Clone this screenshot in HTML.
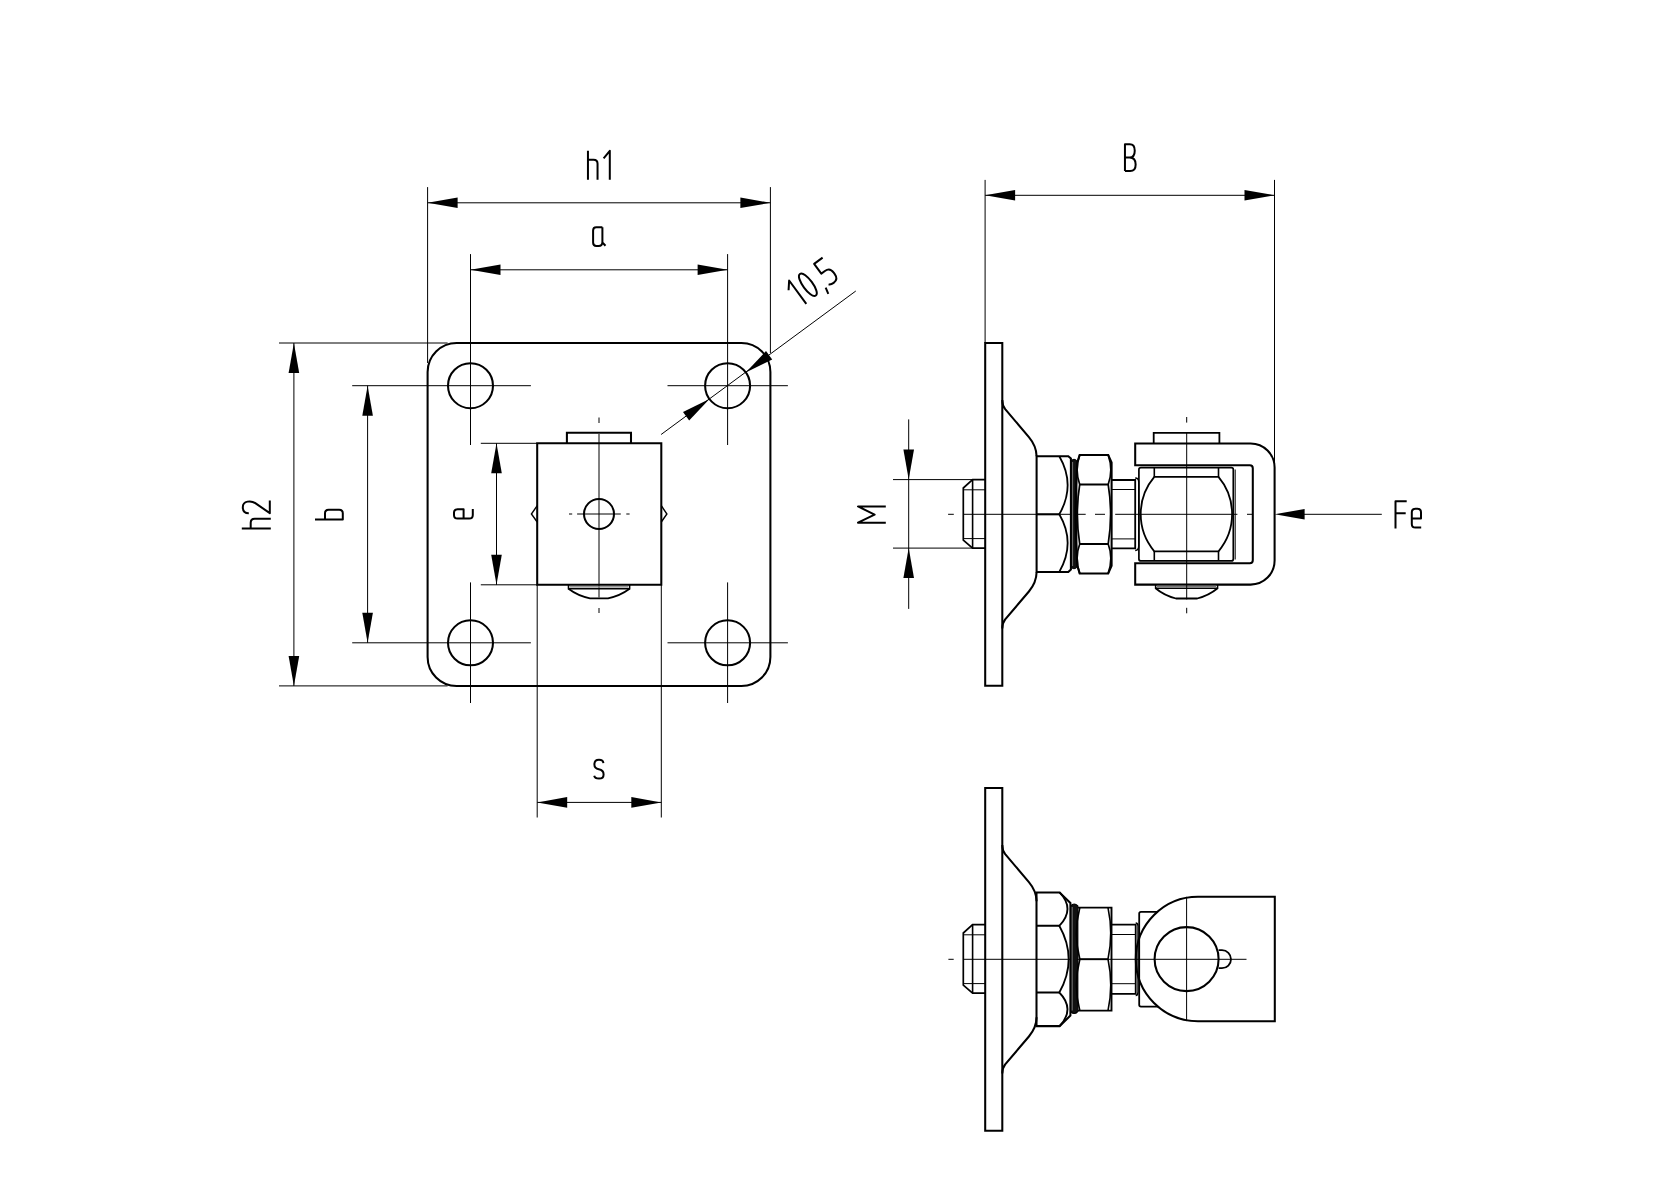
<!DOCTYPE html>
<html><head><meta charset="utf-8"><style>
html,body{margin:0;padding:0;background:#fff;}
body{width:1680px;height:1188px;overflow:hidden;font-family:"Liberation Sans",sans-serif;}
svg{display:block;}
</style></head><body>
<svg width="1680" height="1188" viewBox="0 0 1680 1188">
<rect width="1680" height="1188" fill="#fff"/>
<g stroke="#000" fill="none" stroke-linecap="butt" stroke-linejoin="miter">
<path d="M456.6,343 H741.4 A29,29 0 0 1 770.4,372 V656.9 A29,29 0 0 1 741.4,685.9 H456.6 A29,29 0 0 1 427.6,656.9 V372 A29,29 0 0 1 456.6,343 Z" stroke-width="2.05" fill="none"/>
<circle cx="470.5" cy="385.7" r="22.5" stroke-width="2.05" fill="none"/>
<circle cx="470.5" cy="642.8" r="22.5" stroke-width="2.05" fill="none"/>
<circle cx="727.6" cy="385.7" r="22.5" stroke-width="2.05" fill="none"/>
<circle cx="727.6" cy="642.8" r="22.5" stroke-width="2.05" fill="none"/>
<line x1="352.2" y1="385.7" x2="530.9" y2="385.7" stroke-width="1"/>
<line x1="352.2" y1="642.8" x2="530.9" y2="642.8" stroke-width="1"/>
<line x1="667.5" y1="385.7" x2="787.9" y2="385.7" stroke-width="1"/>
<line x1="667.5" y1="642.8" x2="787.9" y2="642.8" stroke-width="1"/>
<line x1="470.5" y1="254.1" x2="470.5" y2="445" stroke-width="1"/>
<line x1="727.6" y1="254.1" x2="727.6" y2="445" stroke-width="1"/>
<line x1="470.5" y1="582.4" x2="470.5" y2="703" stroke-width="1"/>
<line x1="727.6" y1="582.4" x2="727.6" y2="703" stroke-width="1"/>
<line x1="427.6" y1="187.1" x2="427.6" y2="363" stroke-width="1"/>
<line x1="770.4" y1="187.1" x2="770.4" y2="353" stroke-width="1"/>
<line x1="427.6" y1="202.8" x2="770.4" y2="202.8" stroke-width="1"/>
<path d="M427.6,202.8 L457.6,197.5 L457.6,208.1 Z" fill="#000" stroke="none"/>
<path d="M770.4,202.8 L740.4,208.1 L740.4,197.5 Z" fill="#000" stroke="none"/>
<g transform="translate(586.95,179.8)" stroke-width="2" stroke-linecap="butt" stroke-linejoin="round" fill="none">
<path transform="translate(0,0)" d="M1,-29 V0 M1,-20.1 H6.6 Q10.6,-20.1 10.6,-16.1 V0"/>
<path transform="translate(15.65,0)" d="M1,-21.5 L7.2,-29 V0"/>
</g>
<line x1="470.5" y1="269.8" x2="727.6" y2="269.8" stroke-width="1"/>
<path d="M470.5,269.8 L500.5,264.5 L500.5,275.1 Z" fill="#000" stroke="none"/>
<path d="M727.6,269.8 L697.6,275.1 L697.6,264.5 Z" fill="#000" stroke="none"/>
<g transform="translate(592.1,247)" stroke-width="2" stroke-linecap="butt" stroke-linejoin="round" fill="none">
<path transform="translate(0,0)" d="M10.3,-19.8 H4.2 Q1,-19.8 1,-16.4 V-4.4 Q1,-1 4.2,-1 H6.5 Q10.3,-1 10.3,-5 M10.3,-19.8 V-4.5 L13.4,-1.2"/>
</g>
<line x1="279" y1="343" x2="447.6" y2="343" stroke-width="1"/>
<line x1="279" y1="685.9" x2="447.6" y2="685.9" stroke-width="1"/>
<line x1="293.9" y1="343" x2="293.9" y2="685.9" stroke-width="1"/>
<path d="M293.9,343 L299.2,373 L288.6,373 Z" fill="#000" stroke="none"/>
<path d="M293.9,685.9 L288.6,655.9 L299.2,655.9 Z" fill="#000" stroke="none"/>
<g transform="translate(270.8,529.45) rotate(-90)" stroke-width="2" stroke-linecap="butt" stroke-linejoin="round" fill="none">
<path transform="translate(0,0)" d="M1,-29 V0 M1,-20.1 H6.6 Q10.6,-20.1 10.6,-16.1 V0"/>
<path transform="translate(15.1,0)" d="M13.9,-1 H1.2 L11.2,-15.5 C14,-19.5 13.8,-28 7.2,-28 C3,-28 1,-25.5 1,-22"/>
</g>
<line x1="367.6" y1="385.7" x2="367.6" y2="642.8" stroke-width="1"/>
<path d="M367.6,385.7 L372.9,415.7 L362.3,415.7 Z" fill="#000" stroke="none"/>
<path d="M367.6,642.8 L362.3,612.8 L372.9,612.8 Z" fill="#000" stroke="none"/>
<g transform="translate(343.8,520.55) rotate(-90)" stroke-width="2" stroke-linecap="butt" stroke-linejoin="round" fill="none">
<path transform="translate(0,0)" d="M1,-28.8 V-1 H7.2 Q10.8,-1 10.8,-4.6 V-15.2 Q10.8,-18.8 7.2,-18.8 H1"/>
</g>
<line x1="480.8" y1="443.3" x2="537.2" y2="443.3" stroke-width="1"/>
<line x1="480.8" y1="584.8" x2="537.2" y2="584.8" stroke-width="1"/>
<line x1="496.5" y1="443.3" x2="496.5" y2="584.8" stroke-width="1"/>
<path d="M496.5,443.3 L501.8,473.3 L491.2,473.3 Z" fill="#000" stroke="none"/>
<path d="M496.5,584.8 L491.2,554.8 L501.8,554.8 Z" fill="#000" stroke="none"/>
<g transform="translate(473.8,519.5) rotate(-90)" stroke-width="2" stroke-linecap="butt" stroke-linejoin="round" fill="none">
<path transform="translate(0,0)" d="M1.2,-10.2 H10.2 V-16.2 Q10.2,-19.8 6.7,-19.8 H4.6 Q1,-19.8 1,-16.2 V-4.6 Q1,-1 4.6,-1 H10.4"/>
</g>
<line x1="537.2" y1="584.8" x2="537.2" y2="817.5" stroke-width="1"/>
<line x1="661.3" y1="584.8" x2="661.3" y2="817.5" stroke-width="1"/>
<line x1="537.2" y1="802.4" x2="661.3" y2="802.4" stroke-width="1"/>
<path d="M537.2,802.4 L567.2,797.1 L567.2,807.7 Z" fill="#000" stroke="none"/>
<path d="M661.3,802.4 L631.3,807.7 L631.3,797.1 Z" fill="#000" stroke="none"/>
<g transform="translate(593.2,779.6)" stroke-width="2" stroke-linecap="butt" stroke-linejoin="round" fill="none">
<path transform="translate(0,0)" d="M10.2,-16.5 Q9.8,-19.8 5.8,-19.8 Q1.2,-19.8 1.2,-15.2 Q1.2,-11.2 5.6,-10.4 Q10.4,-9.6 10.4,-5.2 Q10.4,-1 5.8,-1 Q1.6,-1 1,-3.8"/>
</g>
<line x1="661.1" y1="434.5" x2="855.8" y2="291" stroke-width="1"/>
<path d="M709.47,399.02 L689.17,420.38 L683.01,412 Z" fill="#000" stroke="none"/>
<path d="M745.74,372.38 L766.03,351.02 L772.19,359.4 Z" fill="#000" stroke="none"/>
<g transform="translate(800.5,308.16) rotate(-36.3)" stroke-width="2" stroke-linecap="butt" stroke-linejoin="round" fill="none">
<path transform="translate(0,0)" d="M1,-21.5 L7.2,-29 V0"/>
<path transform="translate(14.05,0)" d="M5.75,-27.9 C-0.6,-27.9 -0.6,-1.1 5.75,-1.1 C12.1,-1.1 12.1,-27.9 5.75,-27.9 Z"/>
<path transform="translate(29.9,0)" d="M2.6,-1.7 L1,4.9"/>
<path transform="translate(36.2,0)" d="M11.5,-27.6 H1 V-15.5 H5.5 Q11.6,-15.5 11.6,-9 V-7.2 Q11.6,-0.8 5.5,-0.8 Q2,-0.8 0.6,-2.6"/>
</g>
<path d="M537.2,443.3 H661.3 V584.8 H537.2 Z" stroke-width="2.05" fill="none"/>
<path d="M566.9,443.3 V432.8 H631.0 V443.3" stroke-width="2.05" fill="none"/>
<path d="M537.2,505.7 L531.4,514 L537.2,522" stroke-width="1.4" fill="none"/>
<path d="M661.3,505.7 L666.9,514 L661.3,522" stroke-width="1.4" fill="none"/>
<circle cx="599" cy="514" r="15" stroke-width="2.05" fill="none"/>
<line x1="569" y1="514" x2="572.2" y2="514" stroke-width="1"/>
<line x1="577.1" y1="514" x2="620.8" y2="514" stroke-width="1"/>
<line x1="626.3" y1="514" x2="629.6" y2="514" stroke-width="1"/>
<line x1="599" y1="417.5" x2="599" y2="423" stroke-width="1"/>
<line x1="599" y1="434" x2="599" y2="597.5" stroke-width="1"/>
<line x1="599" y1="608" x2="599" y2="613" stroke-width="1"/>
<path d="M568.5,584.8 V588.8 H629.6 V584.8" stroke-width="1.6" fill="none"/>
<path d="M568.5,588.8 Q578,596 590,598.3 H608 Q620,596 629.6,588.8" stroke-width="1.8" fill="none"/>
<line x1="570" y1="586.8" x2="628" y2="586.8" stroke-width="1.2" stroke="#777"/>
<path d="M985.2,342.9 H1002.3 V685.8 H985.2 Z" stroke-width="2.05" fill="none"/>
<path d="M1002.3,400 Q1002.3,405.5 1005.2,409.2 L1028.9,437.1 Q1036.4,446 1036.6,456.3" stroke-width="2.05" fill="none"/>
<path d="M1002.3,628.6 Q1002.3,623.1 1005.2,619.4 L1028.9,591.5 Q1036.4,582.6 1036.6,572.3" stroke-width="2.05" fill="none"/>
<path d="M985.2,479.6 H972.6 L963.3,488 V540.1 L972.6,548.1 H985.2" stroke-width="1.7" fill="none"/>
<line x1="972.6" y1="479.6" x2="972.6" y2="548.1" stroke-width="1.6"/>
<line x1="963.3" y1="489.8" x2="985.2" y2="489.8" stroke-width="1"/>
<line x1="963.3" y1="538.6" x2="985.2" y2="538.6" stroke-width="1"/>
<path d="M985.2,787.9 H1002.3 V1130.8 H985.2 Z" stroke-width="2.05" fill="none"/>
<path d="M1002.3,845 Q1002.3,850.5 1005.2,854.2 L1028.9,882.1 Q1036.4,891 1036.6,901.3" stroke-width="2.05" fill="none"/>
<path d="M1002.3,1073.6 Q1002.3,1068.1 1005.2,1064.4 L1028.9,1036.5 Q1036.4,1027.6 1036.6,1017.3" stroke-width="2.05" fill="none"/>
<path d="M985.2,924.6 H972.6 L963.3,933 V985.1 L972.6,993.1 H985.2" stroke-width="1.7" fill="none"/>
<line x1="972.6" y1="924.6" x2="972.6" y2="993.1" stroke-width="1.6"/>
<line x1="963.3" y1="934.8" x2="985.2" y2="934.8" stroke-width="1"/>
<line x1="963.3" y1="983.6" x2="985.2" y2="983.6" stroke-width="1"/>
<line x1="948.1" y1="514.3" x2="953.8" y2="514.3" stroke-width="1"/>
<line x1="963.3" y1="514.3" x2="1085.7" y2="514.3" stroke-width="1"/>
<line x1="1095" y1="514.3" x2="1105" y2="514.3" stroke-width="1"/>
<line x1="1115.2" y1="514.3" x2="1237.4" y2="514.3" stroke-width="1"/>
<line x1="1247" y1="514.3" x2="1252" y2="514.3" stroke-width="1"/>
<path d="M1036.6,456.2 H1068.3 L1070.9,458.5 V569.5 L1068.3,571.9 H1036.6 Z" stroke-width="2.05" fill="none"/>
<path d="M1036.6,514.3 H1059.3" stroke-width="2.05" fill="none"/>
<path d="M1059.3,456.2 Q1076,485 1059.3,514.3 Q1076,543 1059.3,571.9" stroke-width="1.8" fill="none"/>
<path d="M1071.2,461 Q1074,457.5 1076.8,461 V567 Q1074,570.5 1071.2,567 Z" stroke-width="1.2" fill="#111"/>
<line x1="1072.6" y1="462" x2="1072.6" y2="566" stroke-width="1" stroke="#777"/>
<path d="M1079.7,454.9 H1108.2 L1111.6,462.5 V565.8 L1108.2,573.4 H1079.7 L1077.4,566 Q1073.5,514 1077.4,462 Z" stroke-width="2.05" fill="none"/>
<path d="M1079.7,484.5 H1108.2 M1079.7,544.0 H1108.2" stroke-width="1.9" fill="none"/>
<path d="M1079.7,454.9 Q1074.5,470 1079.7,484.5 Q1075,514 1079.7,544 Q1074.5,558 1079.7,573.4" stroke-width="1.7" fill="none"/>
<path d="M1108.2,454.9 Q1113.5,470 1108.2,484.5 Q1113,514 1108.2,544 Q1113.5,558 1108.2,573.4" stroke-width="1.7" fill="none"/>
<path d="M1111.6,480.0 H1135.2 V548.3 H1111.6" stroke-width="1.8" fill="none"/>
<line x1="1111.6" y1="489.5" x2="1135.2" y2="489.5" stroke-width="1"/>
<line x1="1111.6" y1="538.9" x2="1135.2" y2="538.9" stroke-width="1"/>
<path d="M1135.2,478 Q1138.7,478 1138.7,482 V546 Q1138.7,550.5 1135.2,550.5" stroke-width="1.4" fill="none"/>
<path d="M1135.2,443.5 H1250.6 A24,24 0 0 1 1274.6,467.5 V560.6 A24,24 0 0 1 1250.6,584.6 H1135.2 V563.3 H1249.8 Q1252.8,563.3 1252.8,560.3 V468.2 Q1252.8,465.2 1249.8,465.2 H1135.2 Z" stroke-width="2.05" fill="none"/>
<path d="M1153.7,443.5 V432.8 H1219.4 V443.5" stroke-width="1.8" fill="none"/>
<path d="M1141,467.6 H1231.3 Q1233.3,467.6 1233.3,469.6 V558.9 Q1233.3,560.9 1231.3,560.9 H1141 Q1138.9,560.9 1138.9,558.9 V469.6 Q1138.9,467.6 1141,467.6 Z" stroke-width="1.7" fill="none"/>
<line x1="1235.2" y1="469.5" x2="1235.2" y2="559.5" stroke-width="1"/>
<path d="M1154.3,476.9 H1218.5 A57.7,57.7 0 0 1 1218.5,551.3 H1154.3 A57.7,57.7 0 0 1 1154.3,476.9 Z" stroke-width="1.8" fill="none"/>
<line x1="1154.3" y1="467.6" x2="1154.3" y2="476.9" stroke-width="1.6"/>
<line x1="1218.5" y1="467.6" x2="1218.5" y2="476.9" stroke-width="1.6"/>
<line x1="1154.3" y1="551.3" x2="1154.3" y2="560.9" stroke-width="1.6"/>
<line x1="1218.5" y1="551.3" x2="1218.5" y2="560.9" stroke-width="1.6"/>
<path d="M1155.6,584.6 V588.3 H1217.6 V584.6" stroke-width="1.5" fill="none"/>
<path d="M1155.6,588.3 Q1164,595.5 1176,598.5 H1197.2 Q1209,595.5 1217.6,588.3" stroke-width="1.8" fill="none"/>
<line x1="1157" y1="586.4" x2="1216" y2="586.4" stroke-width="1.2" stroke="#777"/>
<line x1="1186.7" y1="417" x2="1186.7" y2="422.6" stroke-width="1"/>
<line x1="1186.7" y1="432.8" x2="1186.7" y2="599.4" stroke-width="1"/>
<line x1="1186.7" y1="607.8" x2="1186.7" y2="613.3" stroke-width="1"/>
<line x1="985.1" y1="179.9" x2="985.1" y2="342.9" stroke-width="1"/>
<line x1="1274.5" y1="179.9" x2="1274.5" y2="467" stroke-width="1"/>
<line x1="985.1" y1="195.3" x2="1274.5" y2="195.3" stroke-width="1"/>
<path d="M985.1,195.3 L1015.1,190 L1015.1,200.6 Z" fill="#000" stroke="none"/>
<path d="M1274.5,195.3 L1244.5,200.6 L1244.5,190 Z" fill="#000" stroke="none"/>
<g transform="translate(1123.95,172.1)" stroke-width="2" stroke-linecap="butt" stroke-linejoin="round" fill="none">
<path transform="translate(0,0)" d="M1,-1 V-27.8 H5.8 Q10.8,-27.8 10.8,-21.4 Q10.8,-14.6 5.6,-14.6 H1 M5.6,-14.6 Q11.7,-14.6 11.7,-7.6 Q11.7,-1 6.2,-1 H1"/>
</g>
<line x1="893" y1="479.6" x2="972.6" y2="479.6" stroke-width="1"/>
<line x1="893" y1="548.1" x2="972.6" y2="548.1" stroke-width="1"/>
<line x1="908.7" y1="419.4" x2="908.7" y2="608.9" stroke-width="1"/>
<path d="M908.7,479.6 L903.4,449.6 L914,449.6 Z" fill="#000" stroke="none"/>
<path d="M908.7,548.1 L914,578.1 L903.4,578.1 Z" fill="#000" stroke="none"/>
<g transform="translate(885.8,523.65) rotate(-90)" stroke-width="2" stroke-linecap="butt" stroke-linejoin="round" fill="none">
<path transform="translate(0,0)" d="M1,0 V-27.8 L9.1,-11.2 L17.2,-27.8 V0"/>
</g>
<line x1="1304" y1="514.3" x2="1381.8" y2="514.3" stroke-width="1"/>
<path d="M1274.6,514.3 L1304.6,509 L1304.6,519.6 Z" fill="#000" stroke="none"/>
<g transform="translate(1394.5,528.6)" stroke-width="2" stroke-linecap="butt" stroke-linejoin="round" fill="none">
<path transform="translate(0,0)" d="M1,0 V-27.4 H12.2 M1,-15.4 H11.2"/>
<path transform="translate(16.3,0)" d="M1.2,-10.2 H10.2 V-16.2 Q10.2,-19.8 6.7,-19.8 H4.6 Q1,-19.8 1,-16.2 V-4.6 Q1,-1 4.6,-1 H10.4"/>
</g>
<line x1="948.4" y1="959.3" x2="953.7" y2="959.3" stroke-width="1"/>
<line x1="963.3" y1="959.3" x2="1246.5" y2="959.3" stroke-width="1"/>
<path d="M1036.5,892.4 H1059.6 L1070.4,902.9 V1015.6 L1059.6,1026.1 H1036.5 Z" stroke-width="2.05" fill="none"/>
<path d="M1036.5,925.8 H1059.3 M1036.5,992.5 H1059.3" stroke-width="2.05" fill="none"/>
<path d="M1059.6,892.4 Q1075.5,909 1059.3,925.8 Q1078,959.2 1059.3,992.5 Q1075.5,1009 1059.6,1026.1" stroke-width="1.8" fill="none"/>
<path d="M1070.6,906 Q1074.2,902 1077.8,906 V1011.5 Q1074.2,1015.5 1070.6,1011.5 Z" stroke-width="1.2" fill="#111"/>
<line x1="1072.2" y1="907" x2="1072.2" y2="1010.5" stroke-width="1" stroke="#777"/>
<path d="M1078,907.6 H1111.5 V1010.6 H1078" stroke-width="1.9" fill="none"/>
<path d="M1079.8,959.2 H1108" stroke-width="1.9" fill="none"/>
<path d="M1079.8,907.6 Q1073,933.5 1079.8,959.2 Q1073,985 1079.8,1010.6" stroke-width="1.7" fill="none"/>
<path d="M1108,907.6 Q1113.5,933.5 1108,959.2 Q1113.5,985 1108,1010.6" stroke-width="1.6" fill="none"/>
<path d="M1111.5,924.7 H1135.7 V993.8 H1111.5" stroke-width="1.8" fill="none"/>
<line x1="1111.5" y1="934.5" x2="1135.7" y2="934.5" stroke-width="1"/>
<line x1="1111.5" y1="983.7" x2="1135.7" y2="983.7" stroke-width="1"/>
<path d="M1135.7,923 Q1138,923 1138,926 V992 Q1138,995.5 1135.7,995.5" stroke-width="1.4" fill="none"/>
<path d="M1158,911.8 H1141 Q1139.2,911.8 1139.2,913.6 V1004.8 Q1139.2,1006.6 1141,1006.6 H1158" stroke-width="1.8" fill="none"/>
<path d="M1274.8,896.8 H1198 A62.2,62.2 0 0 0 1198,1021.2 H1274.8 Z" stroke-width="2.05" fill="none"/>
<circle cx="1186.6" cy="959.1" r="32" stroke-width="2.05" fill="none"/>
<path d="M1218.6,950.2 H1222 A9,9 0 0 1 1222,968.2 H1218.6" stroke-width="1.8" fill="none"/>
<line x1="1186.6" y1="896.8" x2="1186.6" y2="1021.1" stroke-width="1"/>
</g>
</svg>
</body></html>
